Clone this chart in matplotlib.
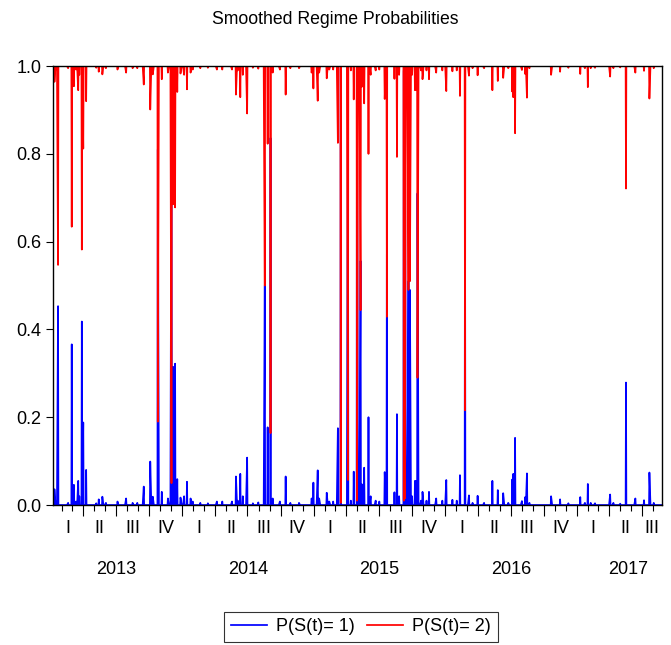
import numpy as np
import pandas as pd
import matplotlib
matplotlib.use('Agg')
import matplotlib.pyplot as plt
import matplotlib.dates as mdates
import matplotlib.transforms as mtransforms

plt.rcParams['font.family'] = ['Liberation Sans', 'DejaVu Sans']

# sample range (business days)
start = '2013-01-07'
end = '2017-08-25'

# days where P(S(t)=1) leaves zero
spike_dates = [
    '2013-01-11', '2013-01-21', '2013-02-18', '2013-02-28', '2013-03-06',
    '2013-03-12', '2013-03-18', '2013-03-21', '2013-03-28', '2013-04-01',
    '2013-04-09', '2013-05-07', '2013-05-14', '2013-05-24', '2013-06-03',
    '2013-07-05', '2013-07-29', '2013-08-16', '2013-08-29', '2013-09-16',
    '2013-10-04', '2013-10-11', '2013-10-25', '2013-11-05', '2013-11-22',
    '2013-12-02', '2013-12-06', '2013-12-12', '2013-12-18', '2013-12-27',
    '2014-01-06', '2014-01-14', '2014-01-24', '2014-01-30', '2014-02-20',
    '2014-03-13', '2014-04-07', '2014-04-22', '2014-05-19', '2014-05-30',
    '2014-06-04', '2014-06-11', '2014-06-18', '2014-06-30', '2014-07-16',
    '2014-07-31', '2014-08-18', '2014-08-26', '2014-09-03', '2014-09-09',
    '2014-09-29', '2014-10-15', '2014-10-28', '2014-11-21', '2014-12-26',
    '2014-12-31', '2015-01-12', '2015-01-16', '2015-02-06', '2015-02-13',
    '2015-02-24', '2015-03-09', '2015-03-17', '2015-04-06', '2015-04-14',
    '2015-04-22', '2015-05-01', '2015-05-11', '2015-05-15', '2015-05-21',
    '2015-06-02', '2015-06-08', '2015-06-22', '2015-07-02', '2015-07-17',
    '2015-07-23', '2015-08-13', '2015-08-20', '2015-08-26', '2015-09-08',
    '2015-09-11', '2015-09-16', '2015-09-21', '2015-09-25', '2015-10-01',
    '2015-10-09', '2015-10-13', '2015-10-16', '2015-10-26', '2015-10-30',
    '2015-11-10', '2015-11-17', '2015-12-07', '2015-12-24', '2016-01-04',
    '2016-01-21', '2016-02-02', '2016-02-11', '2016-02-25', '2016-03-07',
    '2016-03-17', '2016-03-31', '2016-04-18', '2016-05-11', '2016-05-26',
    '2016-06-10', '2016-06-24', '2016-07-05', '2016-07-08', '2016-07-13',
    '2016-08-01', '2016-08-10', '2016-08-15', '2016-08-22', '2016-10-21',
    '2016-11-15', '2016-12-08', '2017-01-10', '2017-01-23', '2017-01-31',
    '2017-02-08', '2017-02-20', '2017-04-03', '2017-04-12', '2017-05-01',
    '2017-05-17', '2017-06-12', '2017-07-06', '2017-07-21', '2017-08-02',
]
spike_probs = [
    0.036, 0.453, 0.005, 0.366, 0.046,
    0.008, 0.055, 0.020, 0.418, 0.188,
    0.080, 0.004, 0.013, 0.019, 0.005,
    0.008, 0.015, 0.005, 0.005, 0.042,
    0.099, 0.019, 0.810, 0.030, 0.015,
    0.950, 0.315, 0.322, 0.059, 0.017,
    0.020, 0.053, 0.015, 0.008, 0.005,
    0.004, 0.008, 0.008, 0.008, 0.065,
    0.010, 0.071, 0.020, 0.108, 0.004,
    0.006, 0.500, 0.177, 0.836, 0.015,
    0.008, 0.065, 0.005, 0.005, 0.015,
    0.051, 0.079, 0.015, 0.028, 0.008,
    0.008, 0.175, 0.995, 0.943, 0.010,
    0.076, 0.990, 0.556, 0.047, 0.085,
    0.200, 0.020, 0.010, 0.008, 0.075,
    0.571, 0.029, 0.207, 0.020, 0.990,
    0.985, 0.093, 0.510, 0.490, 0.020,
    0.055, 0.055, 0.710, 0.010, 0.030,
    0.010, 0.030, 0.015, 0.010, 0.057,
    0.012, 0.010, 0.068, 0.784, 0.022,
    0.005, 0.021, 0.005, 0.055, 0.034,
    0.027, 0.005, 0.058, 0.071, 0.153,
    0.009, 0.018, 0.072, 0.005, 0.020,
    0.013, 0.004, 0.018, 0.005, 0.048,
    0.005, 0.004, 0.024, 0.005, 0.003,
    0.279, 0.015, 0.011, 0.074, 0.005,
]

quarter_names = ['I', 'II', 'III', 'IV']
years = ['2013', '2014', '2015', '2016', '2017']
year_label_dates = ['2013-07-02', '2014-07-02', '2015-07-02', '2016-07-02', '2017-05-24']

days = pd.bdate_range(start, end)
p1 = pd.Series(0.0, index=days)
for d, v in zip(spike_dates, spike_probs):
    i = days.get_indexer([pd.Timestamp(d)], method='nearest')[0]
    p1.iloc[i] = v
p2 = 1.0 - p1

fig = plt.figure(figsize=(6.71, 6.45), dpi=100)
ax = fig.add_axes([0.079, 0.217, 0.9076, 0.6806])

ax.plot(days, p1, color='#0000ff', lw=1.25, label='P(S(t)= 1)')
ax.plot(days, p2, color='#ff0000', lw=1.25, label='P(S(t)= 2)')

ax.set_xlim(pd.Timestamp(start), pd.Timestamp(end))
ax.set_ylim(0, 1.0)
ax.set_yticks([0.0, 0.2, 0.4, 0.6, 0.8, 1.0])
ax.set_yticklabels(['0.0', '0.2', '0.4', '0.6', '0.8', '1.0'])
ax.tick_params(axis='y', direction='out', length=5, width=0.8, pad=3.5, labelsize=13)

ax.xaxis.set_major_locator(mdates.MonthLocator(bymonth=[1, 4, 7, 10]))
ax.xaxis.set_minor_locator(mdates.MonthLocator())
ax.xaxis.set_major_formatter(plt.NullFormatter())
ax.tick_params(axis='x', which='major', direction='out', length=8, width=0.8)
ax.tick_params(axis='x', which='minor', direction='out', length=4.5, width=0.8)

for s in ax.spines.values():
    s.set_linewidth(1.0)
    s.set_color('black')

trans = mtransforms.blended_transform_factory(ax.transData, fig.transFigure)
t0, t1 = pd.Timestamp(start), pd.Timestamp(end)
for q in pd.date_range('2013-01-01', '2017-07-01', freq='QS'):
    qe = q + pd.offsets.QuarterBegin(startingMonth=1)
    lo, hi = max(q, t0), min(qe, t1)
    mid = lo + (hi - lo) / 2
    ax.text(mid, 0.1806, quarter_names[(q.month - 1) // 3], transform=trans,
            ha='center', va='center', fontsize=13)
for y, d in zip(years, year_label_dates):
    ax.text(pd.Timestamp(d), 0.1178, y, transform=trans,
            ha='center', va='center', fontsize=13)

fig.text(0.5, 0.9705, 'Smoothed Regime Probabilities', ha='center', va='center', fontsize=12.7)

leg = fig.legend(loc='upper center', bbox_to_anchor=(0.538, 0.051), ncol=2, frameon=True,
                 fancybox=False, edgecolor='black', fontsize=13, handlelength=2.0,
                 columnspacing=0.7, handletextpad=0.5, borderpad=0.35, borderaxespad=0)
leg.get_frame().set_linewidth(0.8)

fig.savefig('out.png', dpi=100)
